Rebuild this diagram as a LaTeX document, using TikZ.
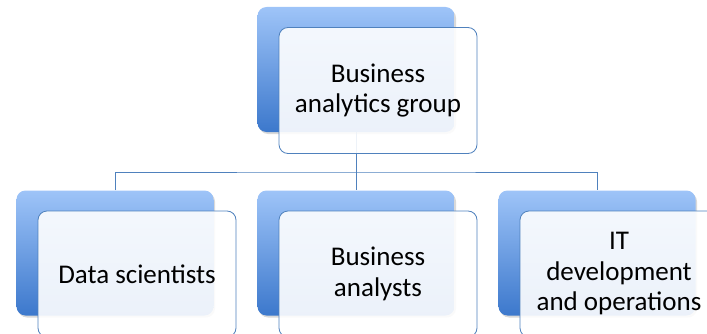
\documentclass[tikz,border=0pt]{standalone}
\usepackage{fontspec}
\setmainfont{Carlito}
\usetikzlibrary{shadows,backgrounds}
\definecolor{boxline}{RGB}{79,129,189}
\definecolor{backtop}{RGB}{158,196,248}
\definecolor{backbot}{RGB}{60,120,204}
\tikzset{
	backbox/.style={rounded corners=9pt, minimum width=197pt, minimum height=125pt,
		top color=backtop, bottom color=backbot,
		drop shadow={opacity=0.3, shadow xshift=1.5pt, shadow yshift=-2pt}},
	frontbox/.style={draw=boxline, line width=0.8pt, rounded corners=9pt,
		minimum width=198pt, minimum height=126pt, fill=white, fill opacity=0.9,
		text opacity=1, align=center, font=\fontsize{27}{30.5}\selectfont,
		xshift=22pt, yshift=-21pt},
	link/.style={draw=boxline, line width=0.8pt}
}
\begin{document}
\begin{tikzpicture}[x=1pt,y=1pt]
	\path[use as bounding box, clip] (0,0) rectangle (707,333);
	% back boxes
	\node[backbox] (bag-back) at (356,263.5) {};
	\node[backbox] (ds-back) at (115,80) {};
	\node[backbox] (ba-back) at (356,80) {};
	\node[backbox] (it-back) at (597,80) {};
	% front boxes
	\node[frontbox] (bag) at (bag-back) {Business\\analytics group};
	\node[frontbox] (ds) at (ds-back) {Data scientists};
	\node[frontbox] (ba) at (ba-back) {Business\\analysts};
	\node[frontbox] (it) at (it-back) {IT\\development\\and operations};
	% connectors
	\coordinate (bar) at (356,161);
	\begin{pgfonlayer}{background}
		\draw[link] (bag-back.south) -- (ba-back.north);
		\draw[link] (ds-back.north) |- (bar) -| (it-back.north);
	\end{pgfonlayer}
\end{tikzpicture}
\end{document}
